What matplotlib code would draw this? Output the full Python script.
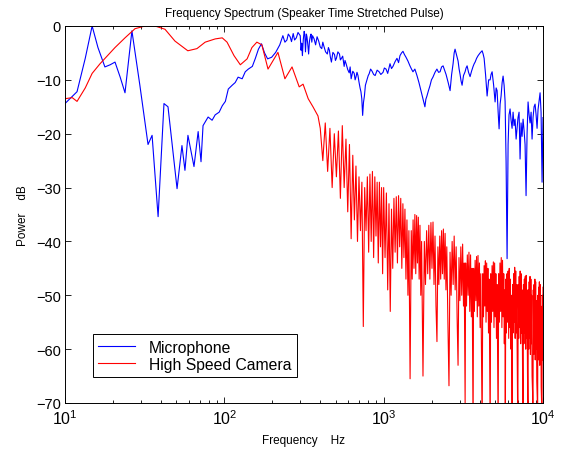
import matplotlib
matplotlib.use("Agg")
import matplotlib.pyplot as plt
from matplotlib.ticker import LogLocator, NullFormatter, FixedLocator

# ---------------- data ----------------
mic_hz = [10, 11.9, 13.4, 14.8, 16.1, 17.8, 19.2, 20.6, 22.2, 23.8, 26.3, 29.5, 33.2, 35.2, 38.4,
          41.8, 44.3, 50.5, 54.2, 56.6, 59.1, 64.5, 68.5, 71.4, 73.5, 79.1, 83.8, 87.6, 92.8, 97.1,
          101.5, 105.9, 112, 117, 122, 129.4, 135.3, 141.4, 149.9, 156.6, 163.7, 171, 178.8, 186.9,
          198.2, 210, 222.8, 233, 240, 247, 252, 258.8, 264, 270.5, 276, 283, 290,
          299.5, 303, 306, 309, 313, 317, 320, 323, 327.4, 330, 334, 338, 342.2, 346, 350, 354, 357.8,
          366, 374, 382, 391, 400, 408.8, 415, 421, 432, 443,
          450, 456.5, 463, 470, 480, 491.5, 498, 505, 516, 528, 535, 541, 553, 565, 572, 581, 595,
          608, 616, 625, 640, 653.3, 662, 671, 680, 689.8, 700, 711, 720, 729, 738, 747, 757, 768,
          778, 789, 800, 810, 828, 846, 865, 884, 910, 936, 960, 991, 1010, 1035, 1060, 1096, 1120,
          1144, 1180, 1212, 1240, 1266, 1295, 1322, 1350, 1381, 1420, 1462, 1495, 1527, 1570, 1618,
          1665, 1714, 1765, 1815, 1840, 1869, 1910, 1952, 1995, 2038, 2100, 2159, 2210, 2260, 2310,
          2360, 2410, 2464, 2540, 2611, 2670, 2727, 2770, 2806, 2870, 2931, 2975, 3017, 3060, 3106,
          3170, 3243, 3290, 3339, 3410, 3486, 3560, 3642, 3700, 3749, 3830, 3915, 4030, 4148, 4210,
          4270, 4360, 4459, 4560, 4657, 4720, 4793, 4900, 5004, 5080, 5151, 5230, 5302, 5380, 5457,
          5540, 5617, 5700, 5782, 5866, 5951, 6038, 6120, 6214, 6304, 6396, 6490, 6580, 6679, 6780,
          6874, 6970, 7076, 7179, 7283, 7390, 7497, 7610, 7717, 7829, 7944, 8060, 8180, 8296, 8420,
          8539, 8660, 8789, 8917, 9050, 9179, 9310, 9448, 9586, 9725, 9867, 10000]
mic_db = [-14.4, -12.2, -6.0, 0.0, -4.0, -7.6, -7.2, -6.7, -9.5, -12.4, -0.9, -11.0, -22.0, -20.3, -35.4,
          -14.4, -15.0, -30.2, -22.2, -26.8, -20.3, -26.1, -19.6, -25.2, -18.5, -16.9, -17.5, -16.5, -16.0, -14.8,
          -14.0, -11.7, -11.0, -10.5, -9.5, -9.8, -8.5, -8.0, -7.5, -6.0, -4.3, -3.3, -5.0, -6.1,
          -5.8, -4.9, -3.5, -1.8, -3.0, -2.6, -1.5, -2.0, -2.9, -1.4, -2.6, -2.2, -1.2,
          -1.8, -4.5, -3.2, -5.5, -2.5, -1.0, -1.6, -4.8, -1.5, -2.0, -3.4, -5.2, -2.8, -2.0, -1.5, -3.0, -1.8,
          -2.4, -3.5, -2.0, -2.8, -3.9, -4.2, -3.0, -3.7, -4.8, -5.2,
          -4.0, -4.5, -5.8, -6.7, -4.9, -5.3, -6.4, -6.0, -4.8, -5.2, -6.3, -6.1, -5.6, -7.5, -6.4, -7.0, -8.1,
          -8.7, -7.6, -9.8, -8.4, -8.8, -10.0, -9.4, -8.6, -9.2, -10.4, -11.5, -12.2, -13.5, -16.6, -14.2, -13.0, -11.0,
          -10.4, -9.8, -9.2, -8.9, -8.0, -8.4, -9.0, -9.2, -8.2, -8.5, -9.0, -8.6, -7.8, -8.0, -8.8, -7.0, -7.9,
          -7.5, -6.6, -6.0, -6.8, -5.5, -5.0, -4.7, -5.3, -5.8, -6.5, -7.4, -8.0, -8.5, -8.0, -9.2,
          -10.5, -12.0, -13.5, -15.0, -13.6, -13.0, -12.0, -11.1, -10.0, -9.5, -8.6, -8.0, -8.6, -8.5, -7.6,
          -7.4, -8.2, -9.0, -10.5, -12.0, -9.0, -7.0, -5.0, -4.3, -5.4, -6.5, -8.0, -9.0, -10.2, -11.0,
          -9.2, -8.5, -7.8, -7.4, -8.6, -9.4, -8.4, -7.5, -7.0, -6.7, -6.0, -5.5, -5.0, -4.6, -5.2,
          -6.0, -9.0, -13.0, -10.0, -10.0, -9.0, -8.5, -11.0, -14.1, -11.5, -12.0, -16.0, -19.1, -14.5, -13.0,
          -10.5, -9.3, -11.0, -14.0, -25.2, -43.2, -22.0, -16.5, -15.4, -17.5, -19.0, -16.0, -18.5, -17.3, -21.0,
          -19.0, -17.0, -16.0, -24.7, -18.0, -20.5, -17.3, -19.5, -22.0, -31.5, -20.0, -14.1, -16.5, -18.0, -16.0,
          -21.0, -17.0, -15.0, -14.5, -16.5, -19.0, -15.5, -14.0, -12.4, -16.0, -29.0, -17.0]

cam_hz = [10, 11.1, 11.9, 13.4, 14.8, 16.6, 20.6, 23.8, 27.5, 31.8, 36.7, 42.4, 49, 59, 67.3, 75.8,
          87.6, 97, 104, 115, 126, 139, 149, 160, 172, 188, 217, 240, 266, 295, 312, 336, 360, 387,
          400, 415, 430, 445, 460, 475, 490, 505, 520, 535, 550, 565, 580, 595, 610, 625, 640, 655,
          670, 685, 700, 715, 730, 745, 760,
          775, 790, 805, 820, 835, 850, 865, 880, 895, 910, 925, 940, 955, 970, 985, 1000, 1020,
          1040, 1060, 1080, 1100, 1120,
          1140, 1160, 1180, 1200, 1220, 1240, 1260, 1280, 1300, 1320, 1340, 1360, 1380, 1400, 1420,
          1440, 1465, 1490,
          1510, 1530, 1550, 1570, 1590, 1610, 1630, 1650, 1670, 1690, 1710, 1730, 1765, 1800,
          1830, 1860, 1890, 1920, 1950, 1980, 2010, 2040, 2070, 2100, 2130, 2160, 2190,
          2220, 2250, 2280, 2310, 2340, 2370, 2400, 2430, 2460, 2490, 2530, 2570, 2610,
          2650, 2690, 2730, 2770, 2810, 2850, 2890, 2930,
          2970, 3010, 3050, 3090, 3130, 3170, 3200, 3225, 3245, 3270,
          3310, 3350, 3390, 3430, 3470, 3510, 3550, 3590, 3615, 3640, 3670,
          3710, 3750, 3790, 3830, 3870, 3910, 3950, 3990, 4030, 4070, 4110, 4150, 4190,
          4230, 4270, 4310, 4350, 4390, 4430, 4470, 4510, 4550, 4590, 4630, 4660, 4700,
          4745, 4790, 4835, 4880, 4925, 4970, 5015, 5060, 5105, 5150, 5190, 5230, 5270,
          5320, 5370, 5420, 5470, 5520, 5570, 5620, 5670, 5720, 5760, 5800, 5840,
          5890, 5940, 5990, 6040, 6090, 6140, 6190, 6240, 6290, 6340, 6400, 6440,
          6490, 6540, 6590, 6640, 6690, 6740, 6790, 6840, 6890, 6950, 6990,
          7040, 7090, 7140, 7190, 7240, 7290, 7340, 7390, 7440, 7500, 7540,
          7590, 7640, 7690, 7740, 7790, 7840, 7890, 7940, 7990, 8050, 8090,
          8140, 8190, 8240, 8290, 8340, 8390, 8440, 8490, 8540, 8600, 8650, 8690,
          8740, 8790, 8840, 8890, 8940, 8990, 9040, 9090, 9140, 9200, 9250, 9290,
          9340, 9390, 9440, 9490, 9540, 9590, 9640, 9690, 9740, 9800, 9850, 9900, 9950, 10000]
cam_db = [-13.5, -13.3, -14.0, -11.5, -8.8, -7.0, -4.0, -2.2, -0.5, 0.0, 0.0, -0.6, -2.8, -4.6, -4.2, -3.0,
          -2.4, -2.2, -3.0, -5.5, -7.2, -6.1, -4.0, -3.0, -3.5, -8.0, -4.9, -9.8, -7.6, -11.3, -10.8, -13.5, -15.0, -16.7,
          -19.0, -25.0, -18.0, -27.0, -19.0, -30.0, -20.0, -28.0, -19.5, -32.0, -18.5, -30.0, -21.0, -34.5, -22.0, -39.5, -24.0, -36.0,
          -26.0, -40.0, -28.0, -38.0, -29.0, -55.8, -30.0,
          -38.0, -28.0, -42.0, -27.5, -40.0, -27.0, -43.0, -28.0, -39.0, -29.0, -44.0, -29.0, -41.0, -30.0, -46.0, -30.0, -43.0,
          -31.0, -49.0, -33.0, -53.0, -34.0,
          -45.0, -32.0, -42.0, -31.7, -44.0, -31.5, -41.0, -32.0, -45.0, -33.0, -43.0, -34.0, -47.0, -36.0, -50.0,
          -38.0, -65.5, -38.0,
          -47.0, -36.0, -45.0, -35.0, -46.0, -35.2, -44.0, -35.5, -47.0, -37.0, -50.0, -40.0, -65.0, -40.0,
          -48.0, -38.0, -46.0, -37.0, -47.0, -36.5, -45.0, -36.4, -48.0, -39.0, -52.0, -58.6, -41.0,
          -48.0, -39.0, -47.0, -38.0, -46.0, -37.7, -47.0, -38.5, -49.0, -41.0, -55.0, -66.8, -42.0,
          -50.0, -40.0, -48.0, -39.0, -49.0, -41.0, -54.0, -63.0,
          -43.0, -51.0, -41.0, -50.0, -40.5, -52.0, -44.0, -57.0, -70.0, -44.0,
          -52.0, -42.5, -50.0, -42.0, -53.0, -42.5, -54.0, -45.0, -60.0, -75.0, -45.0,
          -53.0, -43.5, -51.0, -42.8, -54.0, -42.6, -52.0, -44.0, -56.0, -46.0, -61.0, -75.0, -46.0,
          -54.0, -44.5, -52.0, -43.6, -55.0, -44.0, -53.0, -45.0, -57.0, -47.0, -62.0, -75.0, -46.0,
          -55.0, -44.5, -53.0, -43.8, -56.0, -44.0, -54.0, -46.0, -58.0, -48.0, -63.0, -75.0, -46.0,
          -55.0, -44.0, -53.0, -43.0, -56.0, -43.5, -54.0, -46.0, -59.0, -49.0, -75.0, -47.0,
          -57.0, -46.0, -55.0, -45.5, -58.0, -45.0, -56.0, -47.0, -60.0, -50.0, -75.0, -48.0,
          -57.0, -46.0, -55.0, -44.8, -58.0, -45.5, -57.0, -48.0, -62.0, -75.0, -48.0,
          -58.0, -46.5, -56.0, -45.5, -59.0, -46.0, -57.0, -49.0, -63.0, -75.0, -48.0,
          -59.0, -47.0, -57.0, -46.5, -60.0, -46.3, -58.0, -49.0, -64.0, -75.0, -49.0,
          -60.0, -47.5, -58.0, -46.5, -61.0, -47.0, -59.0, -50.0, -65.0, -68.0, -75.0, -49.0,
          -61.0, -48.0, -59.0, -47.0, -62.0, -47.5, -60.0, -51.0, -66.0, -69.0, -75.0, -50.0,
          -62.0, -48.5, -60.0, -47.5, -63.0, -48.0, -61.0, -52.0, -67.0, -70.0, -75.0, -50.0, -62.0, -48.5]

series_labels = ["Microphone", "High Speed Camera"]
title_text = "Frequency Spectrum (Speaker Time Stretched Pulse)"
xlabel_text = "Frequency    Hz"
ylabel_text = "Power    dB"
y_ticks = [0, -10, -20, -30, -40, -50, -60, -70]

# ---------------- figure ----------------
plt.rcParams['font.family'] = ['Liberation Sans', 'DejaVu Sans']
plt.rcParams['mathtext.fontset'] = 'custom'
plt.rcParams['mathtext.rm'] = 'Liberation Sans'
plt.rcParams['mathtext.it'] = 'Liberation Sans'

fig = plt.figure(figsize=(5.61, 4.52), dpi=100)
ax = fig.add_axes([65/561, 1-404/452, (543-65)/561, (404-27)/452])

ax.plot(mic_hz, mic_db, color='#0000ff', lw=0.8, label=series_labels[0])
ax.plot(cam_hz, cam_db, color='#ff0000', lw=0.8, label=series_labels[1])

ax.set_xscale('log')
ax.set_xlim(10, 10000)
ax.set_ylim(-70, 0)
ax.yaxis.set_major_locator(FixedLocator(y_ticks))
ax.xaxis.set_major_locator(LogLocator(base=10, numticks=10))
ax.xaxis.set_minor_locator(LogLocator(base=10, subs=range(2, 10), numticks=20))
ax.xaxis.set_minor_formatter(NullFormatter())

ax.tick_params(which='both', direction='in', top=True, right=True)
ax.tick_params(which='major', length=4, width=0.6)
ax.tick_params(which='minor', length=2.5, width=0.6)
ax.tick_params(axis='x', labelsize=11.5, pad=4)
ax.tick_params(axis='y', labelsize=10.5, pad=3)
for s in ax.spines.values():
    s.set_linewidth(0.7)

ax.set_title(title_text, fontsize=8.5, pad=7)
ax.set_xlabel(xlabel_text, fontsize=8.5, labelpad=5)
ax.set_ylabel(ylabel_text, fontsize=8.5, labelpad=5)

leg = ax.legend(loc='lower left', bbox_to_anchor=((93-65)/478, (404-378)/377),
                borderaxespad=0, fancybox=False, edgecolor='black', framealpha=1,
                fontsize=11.3, handlelength=2.3, handletextpad=0.9, borderpad=0.35,
                labelspacing=0.1)
leg.get_frame().set_linewidth(0.7)

fig.savefig('out.png', dpi=100)
